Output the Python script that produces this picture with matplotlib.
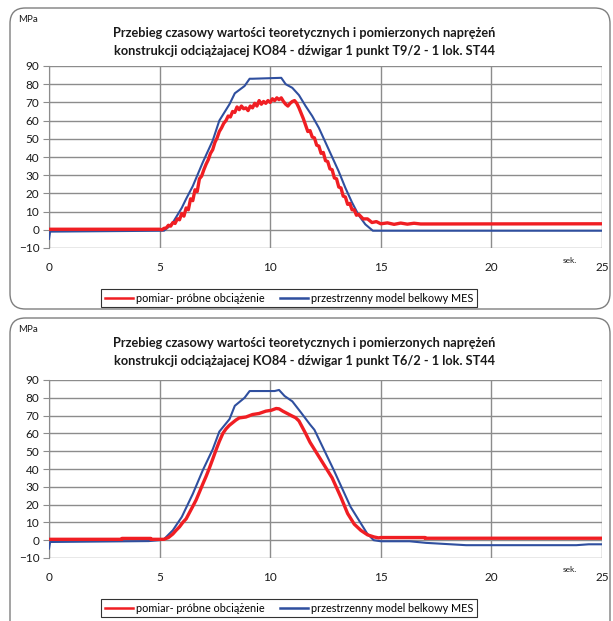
import matplotlib
matplotlib.use("Agg")
import matplotlib.pyplot as plt
from matplotlib.patches import FancyBboxPatch
from matplotlib.lines import Line2D

plt.rcParams['font.family'] = ['Lato', 'DejaVu Sans']

W, H = 613, 621

# --- data (time in s, stress in MPa) ---
titles = [
    "Przebieg czasowy wartości teoretycznych i pomierzonych naprężeń\n"
    "konstrukcji odciążajacej KO84 - dźwigar 1 punkt T9/2 - 1 lok. ST44",
    "Przebieg czasowy wartości teoretycznych i pomierzonych naprężeń\n"
    "konstrukcji odciążajacej KO84 - dźwigar 1 punkt T6/2 - 1 lok. ST44",
]
legend_labels = ["pomiar- próbne obciążenie", "przestrzenny model belkowy MES"]
x_ticks = [0, 5, 10, 15, 20, 25]
y_ticks = [-10, 0, 10, 20, 30, 40, 50, 60, 70, 80, 90]

# top panel, measured (noisy)
t_meas_1 = [0, 5.0, 5.1, 5.2, 5.3, 5.4, 5.5, 5.6, 5.7, 5.8, 5.9, 6.0, 6.1, 6.2,
            6.3, 6.4, 6.5, 6.6, 6.7, 6.8, 6.9, 7.0, 7.1, 7.2, 7.3, 7.4, 7.5,
            7.6, 7.7, 7.8, 7.9, 8.0, 8.1, 8.2, 8.3, 8.4, 8.5, 8.6, 8.7, 8.8,
            8.9, 9.0, 9.1, 9.2, 9.3, 9.4, 9.5, 9.6, 9.7, 9.8, 9.9, 10.0, 10.1,
            10.2, 10.3, 10.4, 10.5, 10.6, 10.7, 10.8, 10.9, 11.0, 11.1, 11.2,
            11.3, 11.4, 11.5, 11.6, 11.7, 11.8, 11.9, 12.0, 12.1, 12.2, 12.3,
            12.4, 12.5, 12.6, 12.7, 12.8, 12.9, 13.0, 13.1, 13.2, 13.3, 13.4,
            13.5, 13.6, 13.7, 13.8, 13.9, 14.0, 14.2, 14.4, 14.6, 14.8, 15.0,
            15.3, 15.6, 15.9, 16.2, 16.5, 16.8, 25]
v_meas_1 = [0.3, 0.3, 0.0, 0.8, 1.0, 2.5, 2.0, 4.0, 3.5, 6.0, 5.5, 9.0, 7.5,
            12.0, 11.0, 17.0, 16.0, 22.0, 21.0, 28.0, 29.5, 33.0, 36.0, 38.5,
            42.0, 44.0, 48.0, 50.5, 54.0, 56.0, 58.5, 60.0, 62.5, 62.0, 65.0,
            64.5, 67.5, 66.0, 68.0, 66.5, 67.0, 65.5, 68.0, 67.0, 69.5, 68.0,
            71.0, 69.0, 70.5, 69.5, 71.0, 70.0, 72.0, 71.0, 72.5, 71.5, 72.5,
            70.5, 69.0, 68.0, 69.5, 70.5, 71.0, 69.5, 67.0, 64.0, 61.0, 57.5,
            54.0, 54.5, 51.0, 50.5, 46.5, 46.0, 42.0, 42.5, 38.0, 37.5, 33.5,
            33.0, 28.5, 28.0, 23.5, 23.0, 18.5, 18.0, 14.0, 14.5, 11.0, 11.0,
            8.0, 8.5, 6.0, 6.0, 4.0, 4.5, 3.3, 3.8, 3.0, 3.7, 3.1, 3.6, 3.2,
            3.3]

# top panel, FE model
t_model_1 = [0, 0.05, 5.2, 5.4, 5.6, 5.8, 6.0, 6.2, 6.5, 6.95, 7.4, 7.7, 8.16,
             8.4, 8.84, 9.07, 9.2, 10.5, 10.7, 11.0, 11.3, 11.6, 11.9, 12.2,
             12.5, 12.8, 13.1, 13.4, 13.7, 14.0, 14.3, 14.64, 25]
v_model_1 = [-5, -1, -0.5, 1.5, 4, 8, 12, 17, 24, 37, 49, 60, 69, 75, 79, 83,
             83, 83.5, 80, 78, 74, 68, 62.5, 56, 48, 40, 32, 23, 15, 8, 3,
             -0.5, -0.5]

# bottom panel, measured
t_meas_2 = [0, 3.3, 3.3, 4.6, 4.6, 5.2, 5.4, 5.6, 5.75, 5.9, 6.05, 6.2, 6.35,
            6.5, 6.65, 6.8, 6.95, 7.1, 7.25, 7.4, 7.56, 7.7, 7.86, 8.0, 8.15,
            8.3, 8.45, 8.6, 8.9, 9.2, 9.5, 9.8, 10.05, 10.27, 10.4, 10.57,
            10.8, 11.0, 11.15, 11.3, 11.45, 11.6, 11.8, 12.0, 12.4, 12.8,
            13.2, 13.5, 13.8, 14.1, 14.4, 14.7, 14.9, 15.0, 17.0, 17.0, 25]
v_meas_2 = [0.5, 0.5, 1.0, 1.0, 0.5, 0.5, 1.5, 3.5, 5.6, 7.5, 10.0, 12.0, 15.5,
            19.0, 22.6, 27.0, 31.5, 35.8, 40.5, 45.5, 51.0, 55.5, 60.0, 62.5,
            64.5, 66.0, 67.5, 68.7, 69.2, 70.6, 71.2, 72.5, 73.0, 74.0, 73.8,
            72.5, 71.0, 69.7, 68.8, 67.0, 63.5, 60.0, 55.0, 51.0, 43.0, 35.0,
            24.0, 15.0, 9.0, 5.5, 3.0, 1.8, 1.3, 1.5, 1.5, 1.1, 1.1]

# bottom panel, FE model
t_model_2 = [0, 0.05, 4.5, 5.0, 5.2, 5.6, 6.0, 6.5, 6.96, 7.4, 7.7, 8.16, 8.4,
             8.84, 9.07, 10.2, 10.4, 10.65, 11.0, 11.4, 11.8, 12.0, 12.87,
             13.63, 14.38, 14.68, 15.0, 16.3, 17.05, 18.86, 23.84, 24.4, 25]
v_model_2 = [-4.7, -1, -0.5, 0, 0.6, 5.6, 13, 26, 39.5, 51, 61, 68, 75.5, 80,
             83.8, 83.8, 84.4, 81, 78, 71.6, 65, 62, 39.5, 18.8, 3.8, 0, -0.6,
             -0.6, -1.5, -2.8, -2.8, -2.3, -2.3]

panels = [
    (t_meas_1, v_meas_1, t_model_1, v_model_1),
    (t_meas_2, v_meas_2, t_model_2, v_model_2),
]

RED = '#f01e23'
BLUE = '#2f4f9f'
GRID = '#8c8c8c'

fig = plt.figure(figsize=(W / 100, H / 100), dpi=100)

# pixel layout of the two panels: (box top, box height, axes top, axes bottom)
layout = [(8, 301, 66, 248), (318, 330, 380, 558)]

for (box_top, box_h, ax_top, ax_bot), title, (tm, vm, tf, vf) in zip(layout, titles, panels):
    # rounded outer frame, behind the axes
    box = FancyBboxPatch((10 / W, 1 - (box_top + box_h) / H), 600 / W, box_h / H,
                         boxstyle="round,pad=0,rounding_size=0.025",
                         transform=fig.transFigure, facecolor='white',
                         edgecolor='#7f7f7f', linewidth=1.0, zorder=-5)
    fig.patches.append(box)

    ax = fig.add_axes([49 / W, 1 - ax_bot / H, 553 / W, (ax_bot - ax_top) / H])
    ax.patch.set_alpha(0)
    ax.plot(tf, vf, color=BLUE, linewidth=1.5, zorder=3)
    ax.plot(tm, vm, color=RED, linewidth=2.4, zorder=4)

    ax.set_xlim(0, 25)
    ax.set_ylim(-10, 90)
    ax.set_xticks(x_ticks)
    ax.set_yticks(y_ticks)
    ax.grid(True, color=GRID, linewidth=1.0)
    ax.set_axisbelow(True)
    for s in ['top', 'right', 'bottom']:
        ax.spines[s].set_visible(False)
    ax.spines['left'].set_color(GRID)
    ax.tick_params(axis='y', length=4, color=GRID, labelsize=8.5,
                   labelcolor='#1a1a1a', pad=3)
    ax.tick_params(axis='x', length=0, labelsize=8.5, labelcolor='#1a1a1a',
                   pad=10)

    fig.text(18 / W, 1 - (box_top + 12) / H, "MPa", fontsize=7,
             va='center', ha='left', color='#1a1a1a')
    fig.text(304 / W, 1 - (box_top + 34) / H, title, fontsize=9.2,
             fontweight='bold', ha='center', va='center', linespacing=1.6,
             color='#1a1a1a')
    fig.text(563 / W, 1 - (ax_bot + 12) / H, "sek.", fontsize=6,
             ha='left', va='center', color='#1a1a1a')

    handles = [Line2D([], [], color=RED, linewidth=1.8),
               Line2D([], [], color=BLUE, linewidth=1.8)]
    leg = fig.legend(handles, legend_labels, loc='center',
                     bbox_to_anchor=(289 / W, 1 - (ax_bot + 50) / H),
                     ncol=2, fontsize=7.8, frameon=True, fancybox=False,
                     edgecolor='black', handlelength=2.6, handletextpad=0.3,
                     columnspacing=1.4, borderpad=0.35)
    leg.get_frame().set_linewidth(0.8)

fig.savefig("out.png", dpi=100)
